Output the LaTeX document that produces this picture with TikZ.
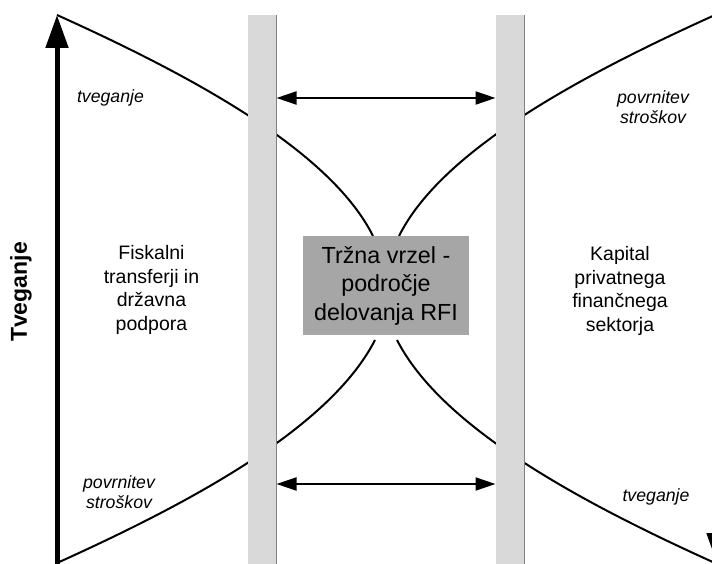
\documentclass[tikz,border=0pt]{standalone}
\usepackage{fontspec}
\setmainfont{Liberation Sans}
\usetikzlibrary{arrows.meta}
\definecolor{barfill}{HTML}{D9D9D9}
\definecolor{baredge}{HTML}{808080}
\definecolor{boxfill}{HTML}{A6A6A6}
\tikzset{
  curveline/.style={line width=2pt, black},
  bararrow/.style={line width=2pt, {Triangle[width=13pt,length=20pt]}-{Triangle[width=13pt,length=20pt]}},
  axisline/.style={line width=5pt, -{Triangle[width=22pt,length=33pt]}},
  lbl/.style={font=\fontsize{17.7}{20}\selectfont\itshape, align=center, inner sep=0pt},
  region/.style={font=\fontsize{19.5}{23.5}\selectfont, align=center, inner sep=0pt},
  gapbox/.style={fill=boxfill, minimum width=166pt, minimum height=99pt, inner sep=0pt},
  gaptext/.style={font=\fontsize{23.3}{28.5}\selectfont, align=center, inner sep=0pt}
}
\begin{document}
\begin{tikzpicture}[x=1pt,y=-1pt]
\useasboundingbox (0,0) rectangle (712,564);
\clip (0,0) rectangle (712,564);
% coordinates
\coordinate (tl) at (57,15);
\coordinate (tr) at (715,15);
\coordinate (bl) at (57,563);
\coordinate (br) at (715,563);
\coordinate (ctl) at (373,236);
\coordinate (ctr) at (399,236);
\coordinate (cbl) at (375,340);
\coordinate (cbr) at (397,340);
% curves
\draw[curveline] (tl) .. controls (190,75) and (330,150) .. (ctl);
\draw[curveline] (tr) .. controls (582,75) and (442,150) .. (ctr);
\draw[curveline] (bl) .. controls (190,503) and (330,428) .. (cbl);
\draw[curveline] (br) .. controls (582,503) and (442,428) .. (cbr);
% bars
\fill[barfill] (248,15) rectangle (276,570);
\draw[baredge, line width=1pt] (276,15) -- (276,570);
\fill[barfill] (496,15) rectangle (524,570);
\draw[baredge, line width=1pt] (524,15) -- (524,570);
% bar coordinates for arrows
\coordinate (a1l) at (276.5,98);
\coordinate (a1r) at (495.5,98);
\coordinate (a2l) at (276.5,484);
\coordinate (a2r) at (495.5,484);
\draw[bararrow] (a1l) -- (a1r);
\draw[bararrow] (a2l) -- (a2r);
% axes
\coordinate (axb) at (57,570);
\coordinate (axt) at (57,15);
\draw[axisline] (axb) -- (axt);
\coordinate (raxt) at (718,10);
\coordinate (raxb) at (718,566);
\draw[axisline] (raxt) -- (raxb);
% central box
\node[gapbox] (gap) at (386,285.5) {};
\node[gaptext] (gaptxt) at (386,285.5) {Tržna vrzel -\\področje\\delovanja RFI};
% labels
\node[font=\fontsize{23}{26}\selectfont\bfseries, rotate=90, inner sep=0pt] (axlabel) at (21,292) {Tveganje};
\node[lbl] (t1) at (110.5,98) {tveganje};
\node[lbl] (p1) at (653,107) {povrnitev\\stroškov};
\node[lbl] (p2) at (119,492) {povrnitev\\stroškov};
\node[lbl] (t2) at (656,497) {tveganje};
\node[region] (fisk) at (151.5,290) {Fiskalni\\transferji in\\državna\\podpora};
\node[region] (kap) at (620,291) {Kapital\\privatnega\\finančnega\\sektorja};
\end{tikzpicture}
\end{document}
